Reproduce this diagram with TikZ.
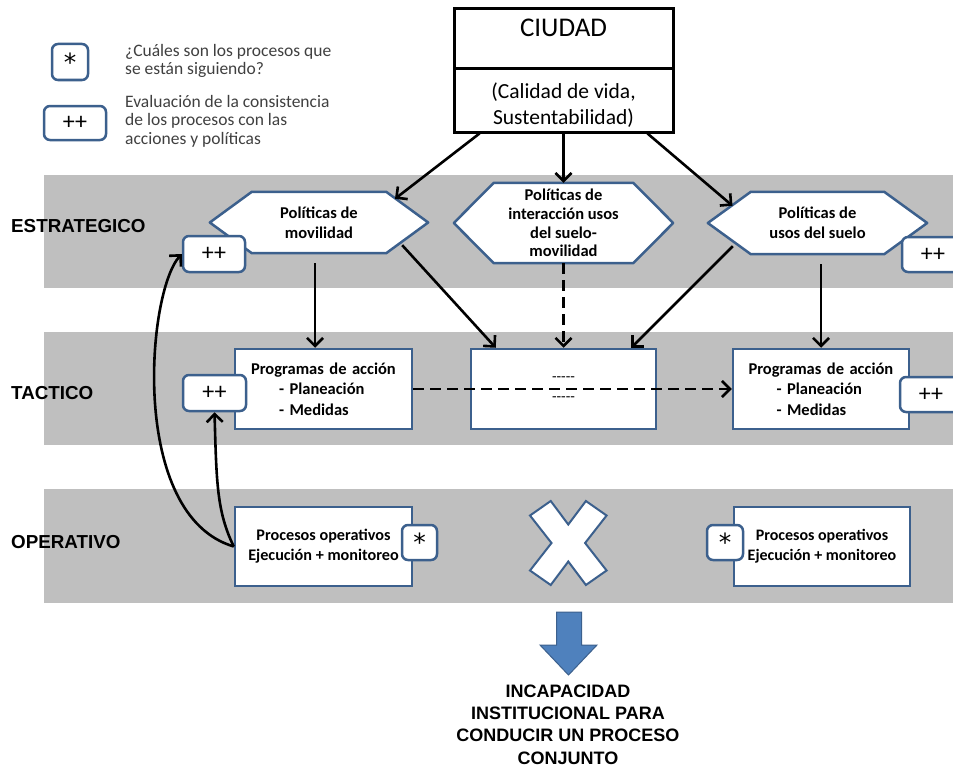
\documentclass[tikz,border=0pt]{standalone}
\usepackage{fontspec}
\setmainfont{Carlito}
\newfontfamily\arialf{Liberation Sans}
\newfontfamily\djfont{DejaVu Sans}
\usetikzlibrary{arrows.meta,calc}
\definecolor{bandgray}{RGB}{191,191,191}
\definecolor{bord}{RGB}{60,96,141}
\definecolor{bluefill}{RGB}{79,129,189}
\definecolor{legtext}{RGB}{64,64,64}
\pgfdeclarelayer{bands}
\pgfdeclarelayer{bg}
\pgfsetlayers{bands,bg,main}
\newcommand{\drawhexagon}[2]{%
  \draw[hexo] (#1.west) -- ($(#1.north west)+(#2,0)$) -- ($(#1.north east)+(-#2,0)$) -- (#1.east) -- ($(#1.south east)+(-#2,0)$) -- ($(#1.south west)+(#2,0)$) -- cycle;}
\begin{document}
\begin{tikzpicture}[x=1pt,y=-1pt,
  bx/.style={draw=bord, fill=white, line width=2.5pt, inner sep=0pt, align=center, font=\fontsize{16.5}{20.5}\selectfont\bfseries},
  tag/.style={draw=bord, fill=white, line width=2.5pt, rounded corners=6pt, inner sep=0pt, font=\fontsize{24}{24}\selectfont},
  startag/.style={tag, font=\djfont\fontsize{25}{25}\selectfont},
  hexn/.style={inner sep=0pt, align=center, font=\fontsize{16.5}{20}\selectfont\bfseries},
  hexo/.style={draw=bord, fill=white, line width=2.5pt, line join=round},
  arr/.style={line width=2.6pt, -{Straight Barb[length=8pt,width=16pt]}},
  darr/.style={arr, dash pattern=on 11pt off 6pt},
  lvl/.style={anchor=west, inner sep=0pt, font=\arialf\bfseries\fontsize{18.8}{18.8}\selectfont},
  legtxt/.style={inner sep=0pt, align=left, text=legtext, font=\fontsize{17.5}{18.5}\selectfont},
  cbox/.style={draw, line width=3pt, minimum width=219pt, inner sep=0pt, align=center}
]
\useasboundingbox (0,0) rectangle (953,768);
\clip (0,0) rectangle (953,768);
\begin{pgfonlayer}{bands}
\fill[white] (0,0) rectangle (953,768);
\fill[bandgray] (44,175) rectangle (953,288);
\fill[bandgray] (44,332) rectangle (953,445);
\fill[bandgray] (44,489) rectangle (953,603);
\end{pgfonlayer}

% legend
\node[startag, minimum width=36pt, minimum height=36pt] (lgs) at (70,62) {*};
\node[tag, minimum width=62pt, minimum height=34pt] (lgp) at (75,123) {++};
\node[legtxt, anchor=north west] (lgt1) at (125,44) {¿Cuáles son los procesos que\\se están siguiendo?};
\node[legtxt, anchor=north west] (lgt2) at (125,95) {Evaluación de la consistencia\\de los procesos con las\\acciones y políticas};

% level labels
\node[lvl] (le) at (11,226) {ESTRATEGICO};
\node[lvl] (lt) at (11,393) {TACTICO};
\node[lvl] (lo) at (11,542) {OPERATIVO};

% city
\node[cbox, minimum height=60pt, font=\fontsize{27}{27}\selectfont, text depth=23pt] (ciu) at (563.5,39) {CIUDAD};
\node[cbox, minimum height=63pt, font=\fontsize{21.5}{26}\selectfont] (cal) at (563.5,100.5) {\raisebox{0pt}[25pt][0pt]{(Calidad de vida,}\\Sustentabilidad)};

% hexagons
\node[hexn, minimum width=218pt, minimum height=61pt] (h1) at (319,222.5) {Políticas de\\movilidad};
\node[hexn, minimum width=219pt, minimum height=80pt, font=\fontsize{16.5}{18.7}\selectfont\bfseries] (h2) at (563.5,223) {Políticas de\\interacción usos\\del suelo-\\movilidad};
\node[hexn, minimum width=219pt, minimum height=62pt] (h3) at (817.5,223) {Políticas de\\usos del suelo};
\begin{pgfonlayer}{bg}
\drawhexagon{h1}{42}
\drawhexagon{h2}{40}
\drawhexagon{h3}{43}
\end{pgfonlayer}

% tactical
\node[bx, minimum width=177pt, minimum height=80pt, text width=145pt, align=left] (tl) at (323.5,389) {Programas de acción\\\hspace*{28pt}- Planeación\\\hspace*{28pt}- Medidas};
\node[bx, minimum width=185pt, minimum height=80pt, font=\fontsize{15}{20}\selectfont] (tm) at (563.5,389) {-{}-{}-{}-{}-\\-{}-{}-{}-{}-};
\node[bx, minimum width=176pt, minimum height=80pt, text width=145pt, align=left] (tr) at (821,389) {Programas de acción\\\hspace*{28pt}- Planeación\\\hspace*{28pt}- Medidas};

% operational
\node[bx, minimum width=177pt, minimum height=79pt, font=\fontsize{16.2}{20}\selectfont\bfseries] (ol) at (323.5,546.5) {Procesos operativos\\Ejecución + monitoreo};
\node[bx, minimum width=176pt, minimum height=79pt, font=\fontsize{16}{20}\selectfont\bfseries] (or) at (822,546.5) {Procesos operativos\\Ejecución + monitoreo};

% tags
\node[tag, minimum width=62pt, minimum height=36pt] (p1) at (214,254) {++};
\node[tag, minimum width=62pt, minimum height=35pt] (p2) at (933,254.5) {++};
\node[tag, minimum width=63pt, minimum height=36pt] (p3) at (214.5,393) {++};
\node[tag, minimum width=62pt, minimum height=35pt] (p4) at (931,394.5) {++};
\node[startag, minimum width=35pt, minimum height=35pt] (s1) at (419.5,542.5) {*};
\node[startag, minimum width=36pt, minimum height=35pt] (s2) at (725,542.5) {*};

% X mark
\filldraw[fill=white, draw=bord, line width=2pt, line join=miter]
  (530,515.5) -- (550.7,501) -- (568.3,524.5) -- (585.9,501) -- (606.6,515.5) -- (585.1,543)
  -- (606.6,570.5) -- (585.9,585) -- (568.3,561.5) -- (550.7,585) -- (530,570.5) -- (551.5,543) -- cycle;

% blue block arrow
\filldraw[fill=bluefill, draw=bord, line width=1pt]
  (556.5,612) -- (581.5,612) -- (581.5,645) -- (597,645) -- (568.5,675) -- (540,645) -- (556.5,645) -- cycle;

\node[align=center, inner sep=0pt, font=\arialf\bfseries\fontsize{18}{22.3}\selectfont] (res) at (568,724.5) {INCAPACIDAD\\INSTITUCIONAL PARA\\CONDUCIR UN PROCESO\\CONJUNTO};

% connectors
\draw[arr] ($(cal.south)+(-84,0)$) -- ($(h1.north)+(76,7)$);
\draw[arr] (cal.south) -- (h2.north);
\draw[arr] ($(cal.south)+(84,0)$) -- ($(h3.north)+(-85,14)$);
\draw[arr] ($(h1.south)+(-4,10)$) -- ($(tl.north)+(-8.5,0)$);
\draw[arr] ($(h1.south east)+(-26,-8)$) -- ($(tm.north west)+(26,0)$);
\draw[darr] (h2.south) -- (tm.north);
\draw[arr] ($(h3.south west)+(25,-8)$) -- ($(tm.north east)+(-26,0)$);
\draw[arr] ($(h3.south)+(3.5,10)$) -- (tr.north);
\draw[darr] (tl.east) -- (tr.west);
\draw[arr] (ol.west) .. controls +(-17,-35) and +(2,70) .. (p3.south);
\draw[arr] (ol.west) .. controls +(-105,-31) and +(-35,38) .. (p1.west);
\end{tikzpicture}
\end{document}
